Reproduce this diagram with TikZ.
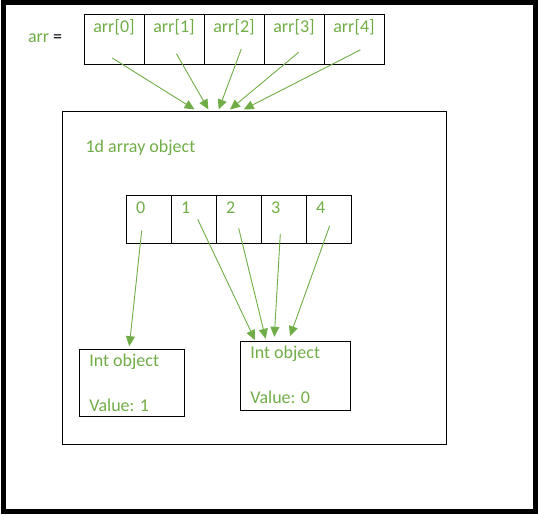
\documentclass[tikz,border=0pt]{standalone}
\usepackage{fontspec}
\setmainfont{Carlito}
\usetikzlibrary{arrows.meta}
\definecolor{objgreen}{HTML}{70AD47}

\tikzset{
  txt/.style={font=\fontsize{18}{22}\selectfont, text=objgreen, inner sep=0pt},
  ptr/.style={draw=objgreen, line width=0.9pt, -{Triangle[length=10pt,width=9pt]}},
}

\begin{document}
\begin{tikzpicture}[x=1pt, y=-1pt, line width=1pt]

        \useasboundingbox (0,0) rectangle (538,514);
        \draw[line width=5pt] (3.5,2.5) rectangle (535,511.5);

        \node[txt, anchor=base west] (arrname) at (27.5,42) {arr {\color{black}=}};

        % reference cells
        \begin{scope}[every node/.style={txt, draw=black, minimum width=60pt, text height=17.7pt, text depth=32.3pt}]
          \node (a0) at (114,39.85) {arr[0]};
          \node (a1) at (174,39.85) {arr[1]};
          \node (a2) at (234,39.85) {arr[2]};
          \node (a3) at (294,39.85) {arr[3]};
          \node (a4) at (354,39.85) {arr[4]};
        \end{scope}

        \node[draw, minimum width=383.8pt, minimum height=333.3pt, inner sep=0pt] (arrobj) at (254.6,277.65) {};
        \node[txt, anchor=base west] (arrlabel) at (85,152) {1d array object};

        % array object cells
        \begin{scope}[every node/.style={txt, draw=black, text width=26pt, align=left, inner xsep=9.5pt, text height=18pt, text depth=29.6pt}]
          \node (c0) at (149.2,219.5) {0};
          \node (c1) at (194.2,219.5) {1};
          \node (c2) at (239.2,219.5) {2};
          \node (c3) at (284.2,219.5) {3};
          \node (c4) at (329.2,219.5) {4};
        \end{scope}

        % int objects
        \node[draw, minimum width=105pt, minimum height=66.7pt, inner sep=0pt] (int1) at (131.8,382.65) {};
        \node[draw, minimum width=110pt, minimum height=69pt, inner sep=0pt] (int0) at (295.3,375.8) {};
        \node[txt, anchor=base west] (int1name) at ([xshift=10pt,yshift=-18pt]int1.north west) {Int object};
        \node[txt, anchor=base west] (int1val) at ([xshift=10pt,yshift=-62.3pt]int1.north west) {Value: 1};
        \node[txt, anchor=base west] (int0name) at ([xshift=10pt,yshift=-18pt]int0.north west) {Int object};
        \node[txt, anchor=base west] (int0val) at ([xshift=10pt,yshift=-62.3pt]int0.north west) {Value: 0};

        \begin{scope}[every edge/.style={ptr}]
          \path ([shift={(-1.7,18.2)}]a0.center) edge ([shift={(-60,-1)}]arrobj.north);
          \path ([shift={(2.5,14)}]a1.center)    edge ([shift={(-46.2,-1)}]arrobj.north);
          \path ([shift={(7.3,9.2)}]a2.center)   edge ([shift={(-35.9,-1)}]arrobj.north);
          \path ([shift={(4.7,12.4)}]a3.center)  edge ([shift={(-24.6,-1)}]arrobj.north);
          \path ([shift={(6.4,10)}]a4.center)    edge ([shift={(-10.9,-1)}]arrobj.north);

          \path ([shift={(-7.5,11.2)}]c0.center) edge ([shift={(-2.5,-2.6)}]int1.north);
          \path ([shift={(3.5,-0.2)}]c1.center)  edge ([shift={(-40.3,-0.6)}]int0.north);
          \path ([shift={(-0.5,8.8)}]c2.center)  edge ([shift={(-29.6,-2)}]int0.north);
          \path ([shift={(-3.9,14.5)}]c3.center) edge ([shift={(-21,-4)}]int0.north);
          \path ([shift={(0.5,6.2)}]c4.center)   edge ([shift={(-5.3,-4.6)}]int0.north);
        \end{scope}

      \end{tikzpicture}
\end{document}
